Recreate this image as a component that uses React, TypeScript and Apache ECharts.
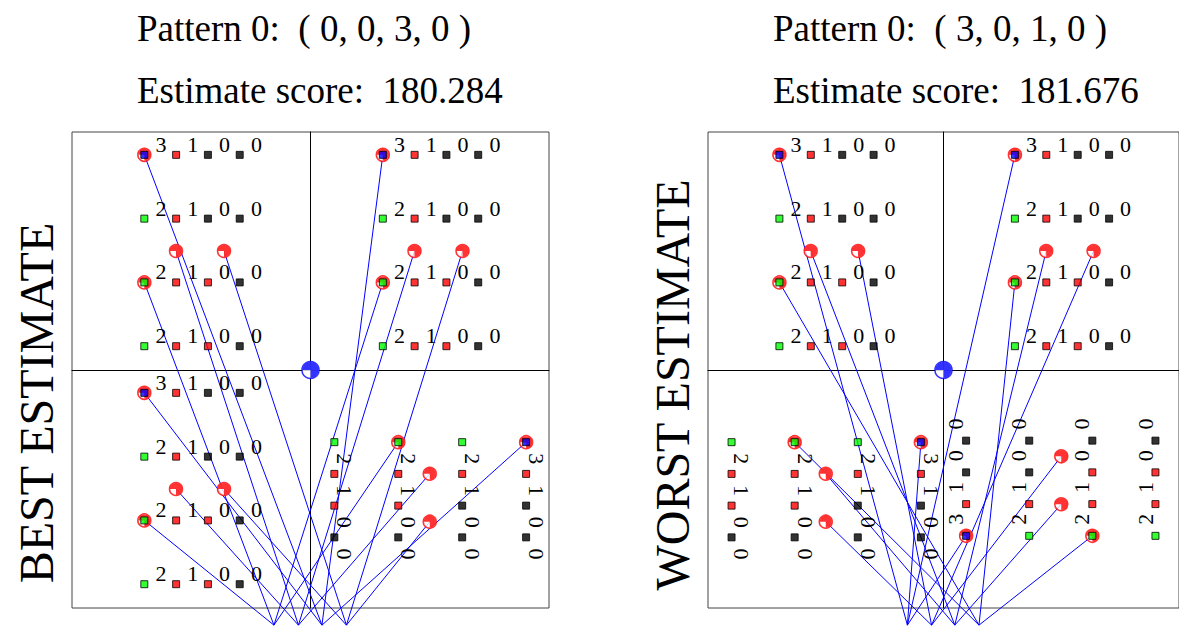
import React, { useEffect, useRef } from "react";
import * as echarts from "echarts";

// ---- data ----
const panelTitles = ["Pattern 0:  ( 0, 0, 3, 0 )", "Pattern 0:  ( 3, 0, 1, 0 )"];
const panelScores = ["Estimate score:  180.284", "Estimate score:  181.676"];
const panelSideLabels = ["BEST ESTIMATE", "WORST ESTIMATE"];
// pattern rows shown in every quadrant (digits)
const patternValues = [
  [3, 1, 0, 0],
  [2, 1, 0, 0],
  [2, 1, 0, 0],
  [2, 1, 0, 0],
];
// state colour of every entry
const patternColors = [
  ["#0000ff", "#ff0000", "#000000", "#000000"],
  ["#00ff00", "#ff0000", "#000000", "#000000"],
  ["#00ff00", "#ff0000", "#ff0000", "#000000"],
  ["#00ff00", "#ff0000", "#ff0000", "#000000"],
];
// highlighted entries [row, column]
const ringCells = [
  [0, 0],
  [2, 0],
];
// free markers, in pattern units relative to the quadrant centre
const checkerPoints = [
  [-0.48, 0],
  [1.03, 0],
];
// quadrant orientation per panel: TL, TR, BL, BR
const quadrantOrient = [
  ["h", "h", "h", "cw"],
  ["h", "h", "cw", "ccw"],
];
// target slot of ring0, ring2, checker1, checker2, per panel
const lineTargets = [
  [2, 0, 1, 3],
  [0, 3, 2, 1],
];
const targetX = [-1.15, -0.38, 0.36, 1.13];
const targetY = -8.04;

// ---- layout (pattern units) ----
const AX = 7.5;
const QC = [
  [-3.75, 3.75],
  [3.75, 3.75],
  [-3.75, -3.75],
  [3.75, -3.75],
];
const COL0 = -1.476;
const COLSTEP = 1.0;
const ROW0 = 3.03;
const ROWSTEP = 2.01;
const DIGIT_DX = 0.525;
const DIGIT_DY = 0.33;
const checkerPath = "path://M0,0 L-10,0 A10,10 0 1,1 0,10 Z";

function rot(o: string, a: number, b: number): [number, number] {
  if (o === "cw") return [b, -a];
  if (o === "ccw") return [-b, a];
  return [a, b];
}
function place(q: number, o: string, a: number, b: number): [number, number] {
  const [ra, rb] = rot(o, a, b);
  return [QC[q][0] + ra, QC[q][1] + rb];
}
const cellLocal = (i: number, j: number): [number, number] => [COL0 + j * COLSTEP, ROW0 - i * ROWSTEP];
const labelRot: Record<string, number> = { h: 0, cw: -90, ccw: 90 };

function buildOption() {
  const series: any[] = [];
  const xAxis: any[] = [];
  const yAxis: any[] = [];
  const grid = [
    { left: 72, top: 132, width: 477, height: 476 },
    { left: 708, top: 132, width: 478, height: 476 },
  ].map((g) => ({ ...g, show: true, borderColor: "#444", borderWidth: 1, backgroundColor: "transparent" }));

  for (let p = 0; p < 2; p++) {
    const axisCommon = {
      type: "value",
      gridIndex: p,
      min: -AX,
      max: AX,
      axisLine: { show: true, onZero: true, lineStyle: { color: "#000", width: 1 } },
      axisTick: { show: false },
      axisLabel: { show: false },
      splitLine: { show: false },
    };
    xAxis.push({ ...axisCommon });
    yAxis.push({ ...axisCommon });

    const lines: any[] = [];
    const markers: [number, number][] = [];
    const squares: any[] = [];
    const digits: Record<string, any[]> = { h: [], cw: [], ccw: [] };

    for (let q = 0; q < 4; q++) {
      const o = quadrantOrient[p][q];
      patternValues.forEach((row, i) =>
        row.forEach((v, j) => {
          const [a, b] = cellLocal(i, j);
          squares.push({ value: place(q, o, a, b), itemStyle: { color: patternColors[i][j] } });
          digits[o].push({ value: [...place(q, o, a + DIGIT_DX, b + DIGIT_DY), v] });
        })
      );
      const srcs: [number, number][] = [
        ...ringCells.map(([i, j]) => {
          const [a, b] = cellLocal(i, j);
          return place(q, o, a, b);
        }),
        ...checkerPoints.map(([a, b]) => place(q, o, a, b)),
      ];
      srcs.forEach((s, k) => {
        markers.push(s);
        lines.push({ coords: [s, [targetX[lineTargets[p][k]], targetY]] });
      });
    }

    series.push({
      type: "lines",
      coordinateSystem: "cartesian2d",
      xAxisIndex: p,
      yAxisIndex: p,
      clip: false,
      z: 1,
      silent: true,
      lineStyle: { color: "#0000ff", width: 1, opacity: 1, curveness: 0 },
      data: lines,
    });
    // checker markers: outline + 3/4 fill
    series.push({
      type: "scatter",
      xAxisIndex: p,
      yAxisIndex: p,
      z: 2,
      symbol: "circle",
      symbolSize: 13,
      itemStyle: { color: "#ffffff", borderColor: "#ff0000", borderWidth: 1.5 },
      data: markers,
    });
    series.push({
      type: "scatter",
      xAxisIndex: p,
      yAxisIndex: p,
      z: 3,
      symbol: checkerPath,
      symbolSize: 12,
      itemStyle: { color: "#ff0000" },
      data: markers,
    });
    // centre marker
    series.push({
      type: "scatter",
      xAxisIndex: p,
      yAxisIndex: p,
      z: 3,
      symbol: "circle",
      symbolSize: 17,
      itemStyle: { color: "#ffffff", borderColor: "#0000ff", borderWidth: 1.5 },
      data: [[0, 0]],
    });
    series.push({
      type: "scatter",
      xAxisIndex: p,
      yAxisIndex: p,
      z: 4,
      symbol: checkerPath,
      symbolSize: 16,
      itemStyle: { color: "#0000ff" },
      data: [[0, 0]],
    });
    series.push({
      type: "scatter",
      xAxisIndex: p,
      yAxisIndex: p,
      z: 5,
      symbol: "rect",
      symbolSize: 7,
      itemStyle: { borderColor: "#000", borderWidth: 1 },
      data: squares,
    });
    Object.keys(digits).forEach((o) => {
      if (!digits[o].length) return;
      series.push({
        type: "scatter",
        xAxisIndex: p,
        yAxisIndex: p,
        z: 6,
        symbol: "circle",
        symbolSize: 1,
        itemStyle: { color: "transparent" },
        label: {
          show: true,
          position: "inside",
          rotate: labelRot[o],
          formatter: (d: any) => String(d.value[2]),
          fontFamily: "Liberation Serif",
          fontSize: 22,
          color: "#000000",
          textBorderWidth: 0,
          textBorderColor: "transparent",
          opacity: 1,
        },
        data: digits[o],
      });
    });
  }

  const titleX = [137, 773];
  const sideX = [36, 672];
  const sideY = [403, 385];
  const graphic: any[] = [];
  for (let p = 0; p < 2; p++) {
    graphic.push({
      type: "text",
      x: titleX[p],
      y: 28,
      style: { text: panelTitles[p], font: '37px "Liberation Serif"', fill: "#000", align: "left", verticalAlign: "middle" },
    });
    graphic.push({
      type: "text",
      x: titleX[p],
      y: 90,
      style: { text: panelScores[p], font: '37px "Liberation Serif"', fill: "#000", align: "left", verticalAlign: "middle" },
    });
    graphic.push({
      type: "text",
      x: sideX[p],
      y: sideY[p],
      rotation: Math.PI / 2,
      style: { text: panelSideLabels[p], font: '48px "Liberation Serif"', fill: "#000", align: "center", verticalAlign: "middle" },
    });
  }

  return { animation: false, backgroundColor: "#ffffff", grid, xAxis, yAxis, series, graphic };
}

export default function App() {
  const ref = useRef<HTMLDivElement>(null);
  useEffect(() => {
    if (!ref.current) return;
    const chart = echarts.init(ref.current, undefined, { renderer: "svg" });
    chart.setOption(buildOption() as any);
    return () => chart.dispose();
  }, []);
  return <div ref={ref} style={{ position: "fixed", left: 0, top: 0, width: 1179, height: 626 }} />;
}
